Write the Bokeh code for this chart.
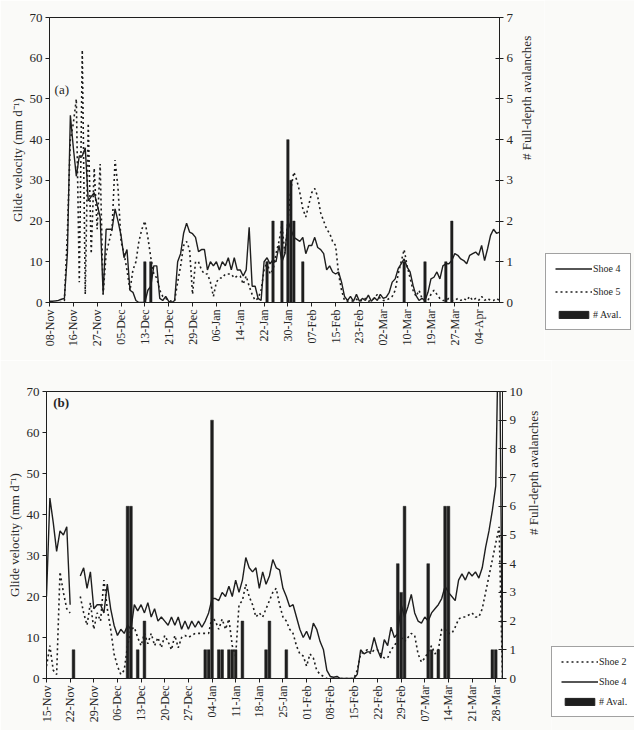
import math
from bokeh.plotting import figure
from bokeh.models import LinearAxis, Range1d, FixedTicker, Legend, LegendItem, Label
from bokeh.layouts import column, row
from bokeh.embed import file_html
from bokeh.resources import INLINE

NaN = float("nan")

# ---------------- Panel (a) data ----------------
a_tick_labels = ["08-Nov", "16-Nov", "27-Nov", "05-Dec", "13-Dec", "21-Dec", "29-Dec",
                 "06-Jan", "14-Jan", "22-Jan", "30-Jan", "07-Feb", "15-Feb", "23-Feb",
                 "02-Mar", "10-Mar", "19-Mar", "27-Mar", "04-Apr"]
a_label_step = 8

a_shoe4 = [0.3, 0.3, 0.4, 0.5, 0.8, 1.0, 12, 46, 38, 31,
           36, 36, 38, 25, 26, 27, 24, 21, 2, 18,
           18, 18, 23, 20, 16.5, 11, 13, 3, 2.5, 0.5,
           0, 0, 0, 3, 4, 9, 9, 1, 0.5, 1.5,
           0.3, 0, 0.5, 10, 12, 17, 19.5, 17.3, 16.9, 16,
           12.5, 13, 13, 8, 10, 9, 10, 8, 10, 9,
           11, 8, 11, 8, 8, 6.5, 8, 18.5, 4, 4,
           1, 0.5, 10, 11, 9.5, 10.5, 10, 14, 10, 12,
           20, 18, 16, 15.5, 15, 16, 12, 14, 14, 16,
           13.5, 13, 12, 8, 9, 7.5, 7, 7.5, 5, 1.5,
           0.5, 1.5, 0.3, 2, 0.3, 1, 0.5, 1.8, 0.3, 1.2,
           0.5, 2, 1, 1.3, 2.5, 5, 5.8, 8.3, 9.5, 10.7,
           8.7, 7.5, 4.2, 1.7, 0.5, 1, 0.5, 2.5, 5.8, 6.2,
           7.5, 5.8, 9, 9.5, 9.5, 10.3, 12, 11.6, 10.7, 10.3,
           9.5, 11.6, 12, 12.4, 11.6, 14, 10.3, 13.2, 16.5, 18,
           17, 17.3]

a_shoe5 = [0, 0, 0, 0, 0, 0.5, 17, 40, 44, 50,
           5, 62, 2, 44, 12, 33, 18, 34, 2, 12,
           15, 18, 35, 28, 15, 12, 8, 3, 8, 10,
           15, 18, 20, 16, 11, 7, 6, 3, 1.5, 1,
           0.5, 0.3, 0.5, 5, 9, 14, 15, 13, 2, 10,
           10, 8, 7, 7, 5, 1.5, 5, 6, 6, 7,
           7, 7, 6, 6.5, 6.5, 4.5, 6.5, 4, 2, 0.5,
           1, 3, 8, 10, 7, 8, 12, 15, 19, 12,
           20, 28, 32, 30, 27, 23, 21, 24, 27, 28,
           26, 22, 20, 18, 17, 15, 14, 7, 3, 0.5,
           0.3, 0.5, 0.3, 0.8, 0.3, 0.5, 1, 0.3, 0.5, 1,
           2, 1, 0.5, 0.5, 1, 1.5, 3, 7, 10, 13,
           9, 6, 3, 1.5, 3, 1, 0.5, 0.5, 2, 3,
           2, 1, 0.5, 0.5, 1, 0.5, 0.5, 1, 0.5, 1,
           0.5, 1.5, 0.5, 1, 0.5, 1.5, 0.5, 1, 0.5, 0.5,
           1, 0.5]

a_aval_day = [32, 34, 73, 75, 78, 80, 81, 82, 85, 119, 126, 133, 135]
a_aval_count = [1, 1, 1, 2, 2, 4, 3, 2, 1, 1, 1, 1, 2]

# ---------------- Panel (b) data ----------------
b_tick_labels = ["15-Nov", "22-Nov", "29-Nov", "06-Dec", "13-Dec", "20-Dec", "27-Dec",
                 "04-Jan", "11-Jan", "18-Jan", "25-Jan", "01-Feb", "08-Feb", "15-Feb",
                 "22-Feb", "29-Feb", "07-Mar", "14-Mar", "21-Mar", "28-Mar"]
b_label_step = 7

b_shoe4 = [20, 44, 38, 31, 36, 35, 37, 18, NaN, NaN,
           25, 27, 22, 26, 17, 18, 18, 16, 23, 17,
           13, 10.5, 12, 11, 13, 12, 18, 16.5, 18, 16,
           18.5, 15, 17, 14, 15, 14, 13, 15, 13, 15,
           12, 14, 12, 14, 12.5, 14, 12.5, 14, 16, 19.5,
           19.5, 19, 21, 20, 22.5, 20, 24, 21, 24, 29.5,
           27, 26, 27, 22, 26, 23, 25, 29, 27, 26.5,
           22, 20, 17.5, 18, 15, 12, 10, 11.5, 9.5, 13.5,
           12, 9, 7, 2, 0.5, 0.3, 0.5, 0, 0, 0,
           0, 0, 1, 7, 6, 6.5, 6.5, 10, 7, 5,
           9.5, 8, 12.5, 10, 11, 18, 15, 17.5, 20.5, 16,
           14, 13.5, 15, 14, 16, 17, 18, 19.5, 22.5, 21,
           20, 19, 24, 25.5, 24, 26, 25, 26, 24.5, 27,
           32, 36, 41, 47, 95, 0]

b_shoe2 = [3, 8, 2, 1, 26, 21, 17, 16, NaN, NaN,
           20, 16, 13, 18.5, 12, 16, 14, 24, 17, 12,
           6, 3, 1, 2, 8, 12, 12.5, 10, 8, 11,
           8.5, 11, 8, 10, 7.5, 10.5, 9, 7, 10.5, 7.5,
           10, 10.5, 10, 10.5, 11, 11, 11, 11, 11, 15,
           14, 12, 14.5, 12, 14.5, 8, 5.5, 18, 19, 23,
           20, 18, 15, 16, 15, 17, 19, 21, 22, 18,
           15, 14, 12, 11, 8, 6, 5.5, 3, 6, 5,
           2, 1, 0.5, 0, 0, 0, 0, 0, 0, 0,
           0, 0, 2, 6, 6.5, 7, 6, 7, 7, 6,
           5, 5, 7, 8, 9.5, 10, 9, 10, 11, 10.5,
           6, 4, 5, 6.5, 8, 6, 7, 12, 12, 11,
           11, 12.5, 14.5, 15, 15, 15.5, 16, 15, 15, 17,
           21, 25, 29, 33, 37, 0]

b_aval_day = [8, 24, 25, 27, 29, 47, 48, 49, 51, 52, 54, 55, 56, 58, 65, 66, 71,
              104, 105, 106, 113, 114, 116, 118, 119, 132, 133]
b_aval_count = [1, 6, 6, 1, 2, 1, 1, 9, 1, 1, 1, 1, 1, 2, 1, 2, 1,
                4, 3, 6, 4, 1, 1, 6, 6, 1, 1]

# ---------------- styling ----------------
FONT = "Liberation Serif"
INK = "#1e1e1e"
TXT = "#262626"
BG = "#fafaf8"


def style_axis(ax, tick_in=0, tick_out=4, size="13px", label_standoff=5):
    ax.axis_line_color = INK
    ax.major_tick_line_color = INK
    ax.minor_tick_line_color = None
    ax.major_tick_in = tick_in
    ax.major_tick_out = tick_out
    ax.major_label_text_font = FONT
    ax.major_label_text_font_size = size
    ax.major_label_text_color = TXT
    ax.axis_label_text_font = FONT
    ax.axis_label_text_font_size = "13px"
    ax.axis_label_text_font_style = "normal"
    ax.axis_label_text_color = TXT
    ax.major_label_standoff = 3
    ax.axis_label_standoff = label_standoff


def make_panel(tag, labels, step, series, aval_day, aval_count, aval_max,
               width, height, b_left, b_right, b_top, b_bottom, right_label_standoff,
               leg_width, leg_loc, leg_spacing, tag_pos, tag_bold):
    n = len(series[0][1])
    idx = list(range(n))
    p = figure(width=width, height=height, x_range=Range1d(0, n - 1), y_range=Range1d(0, 70),
               output_backend="svg", toolbar_location=None,
               min_border_left=b_left, min_border_right=b_right,
               min_border_top=b_top, min_border_bottom=b_bottom)
    p.background_fill_color = BG
    p.border_fill_color = BG
    p.outline_line_color = INK
    p.outline_line_width = 1
    p.xgrid.visible = False
    p.ygrid.visible = False
    p.extra_y_ranges = {"aval": Range1d(0, aval_max)}

    ticks = [k * step for k in range(len(labels))]
    p.xaxis.ticker = FixedTicker(ticks=ticks)
    p.xaxis.major_label_overrides = {t: lab for t, lab in zip(ticks, labels)}
    p.xaxis.major_label_orientation = math.pi / 2
    style_axis(p.xaxis[0], 0, 4, "12px")
    p.yaxis.ticker = FixedTicker(ticks=list(range(0, 71, 10)))
    p.yaxis.axis_label = "Glide velocity (mm d\u207b\u00b9)"
    style_axis(p.yaxis[0], 0, 4, "13px", 2)

    rax = LinearAxis(y_range_name="aval", axis_label="# Full-depth avalanches",
                     ticker=FixedTicker(ticks=list(range(0, aval_max + 1))))
    style_axis(rax, 4, 4, "13px", right_label_standoff)
    rax.axis_label_orientation = math.pi / 2
    p.add_layout(rax, "right")

    p.vbar(x=aval_day, top=aval_count, width=0.8, bottom=0, y_range_name="aval",
           fill_color=INK, line_color=INK, line_width=0.5)
    for name, vals, dash in series:
        p.line(idx, vals, line_color=INK, line_width=1.4 if dash == "solid" else 1.6,
               line_dash=dash)

    p.add_layout(Label(x=tag_pos[0], y=tag_pos[1], text=tag, text_font=FONT,
                       text_font_size="13px", text_color=TXT, text_baseline="bottom",
                       text_font_style="bold" if tag_bold else "normal"))

    # key panel: a small figure holding only the legend (proxy renderers carry no data)
    lf = figure(width=leg_width, height=height, x_range=Range1d(0, 1), y_range=Range1d(0, 1),
                output_backend="svg", toolbar_location=None, x_axis_type=None, y_axis_type=None,
                min_border_left=0, min_border_right=0, min_border_top=0, min_border_bottom=0)
    lf.xgrid.visible = False
    lf.ygrid.visible = False
    lf.outline_line_color = None
    lf.background_fill_color = BG
    lf.border_fill_color = BG
    items = []
    for name, vals, dash in series:
        r = lf.line([NaN], [NaN], line_color=INK, line_width=1.3, line_dash=dash)
        items.append(LegendItem(label=name, renderers=[r]))
    rb = lf.vbar(x=[NaN], top=[NaN], width=0.5, fill_color=INK, line_color=INK)
    items.append(LegendItem(label="# Aval.", renderers=[rb]))
    leg = Legend(items=items, location=leg_loc,
                 label_text_font=FONT, label_text_font_size="10px", label_text_color=TXT,
                 glyph_width=37, glyph_height=9, label_standoff=1, spacing=leg_spacing,
                 padding=9, margin=0, border_line_color="#444", border_line_width=1,
                 background_fill_color="white", background_fill_alpha=1.0)
    lf.add_layout(leg, "center")
    return row(p, column(lf, spacing=0), spacing=0)


r1 = make_panel("(a)", a_tick_labels, a_label_step,
                [("Shoe 4", a_shoe4, "solid"), ("Shoe 5", a_shoe5, "2 3")],
                a_aval_day, a_aval_count, 7,
                544, 360, 49, 42, 17, 58, 10,
                90, (1, 30), 12, (1.7, 50.4), False)

r2 = make_panel("(b)", b_tick_labels, b_label_step,
                [("Shoe 2", b_shoe2, "2 3"), ("Shoe 4", b_shoe4, "solid")],
                b_aval_day, b_aval_count, 10,
                551, 370, 46, 44, 31, 52, 8,
                83, (0, 13), 9, (2.0, 65.4), True)

layout = column(r1, r2, spacing=0)
open("out.html", "w").write(file_html(layout, INLINE))
